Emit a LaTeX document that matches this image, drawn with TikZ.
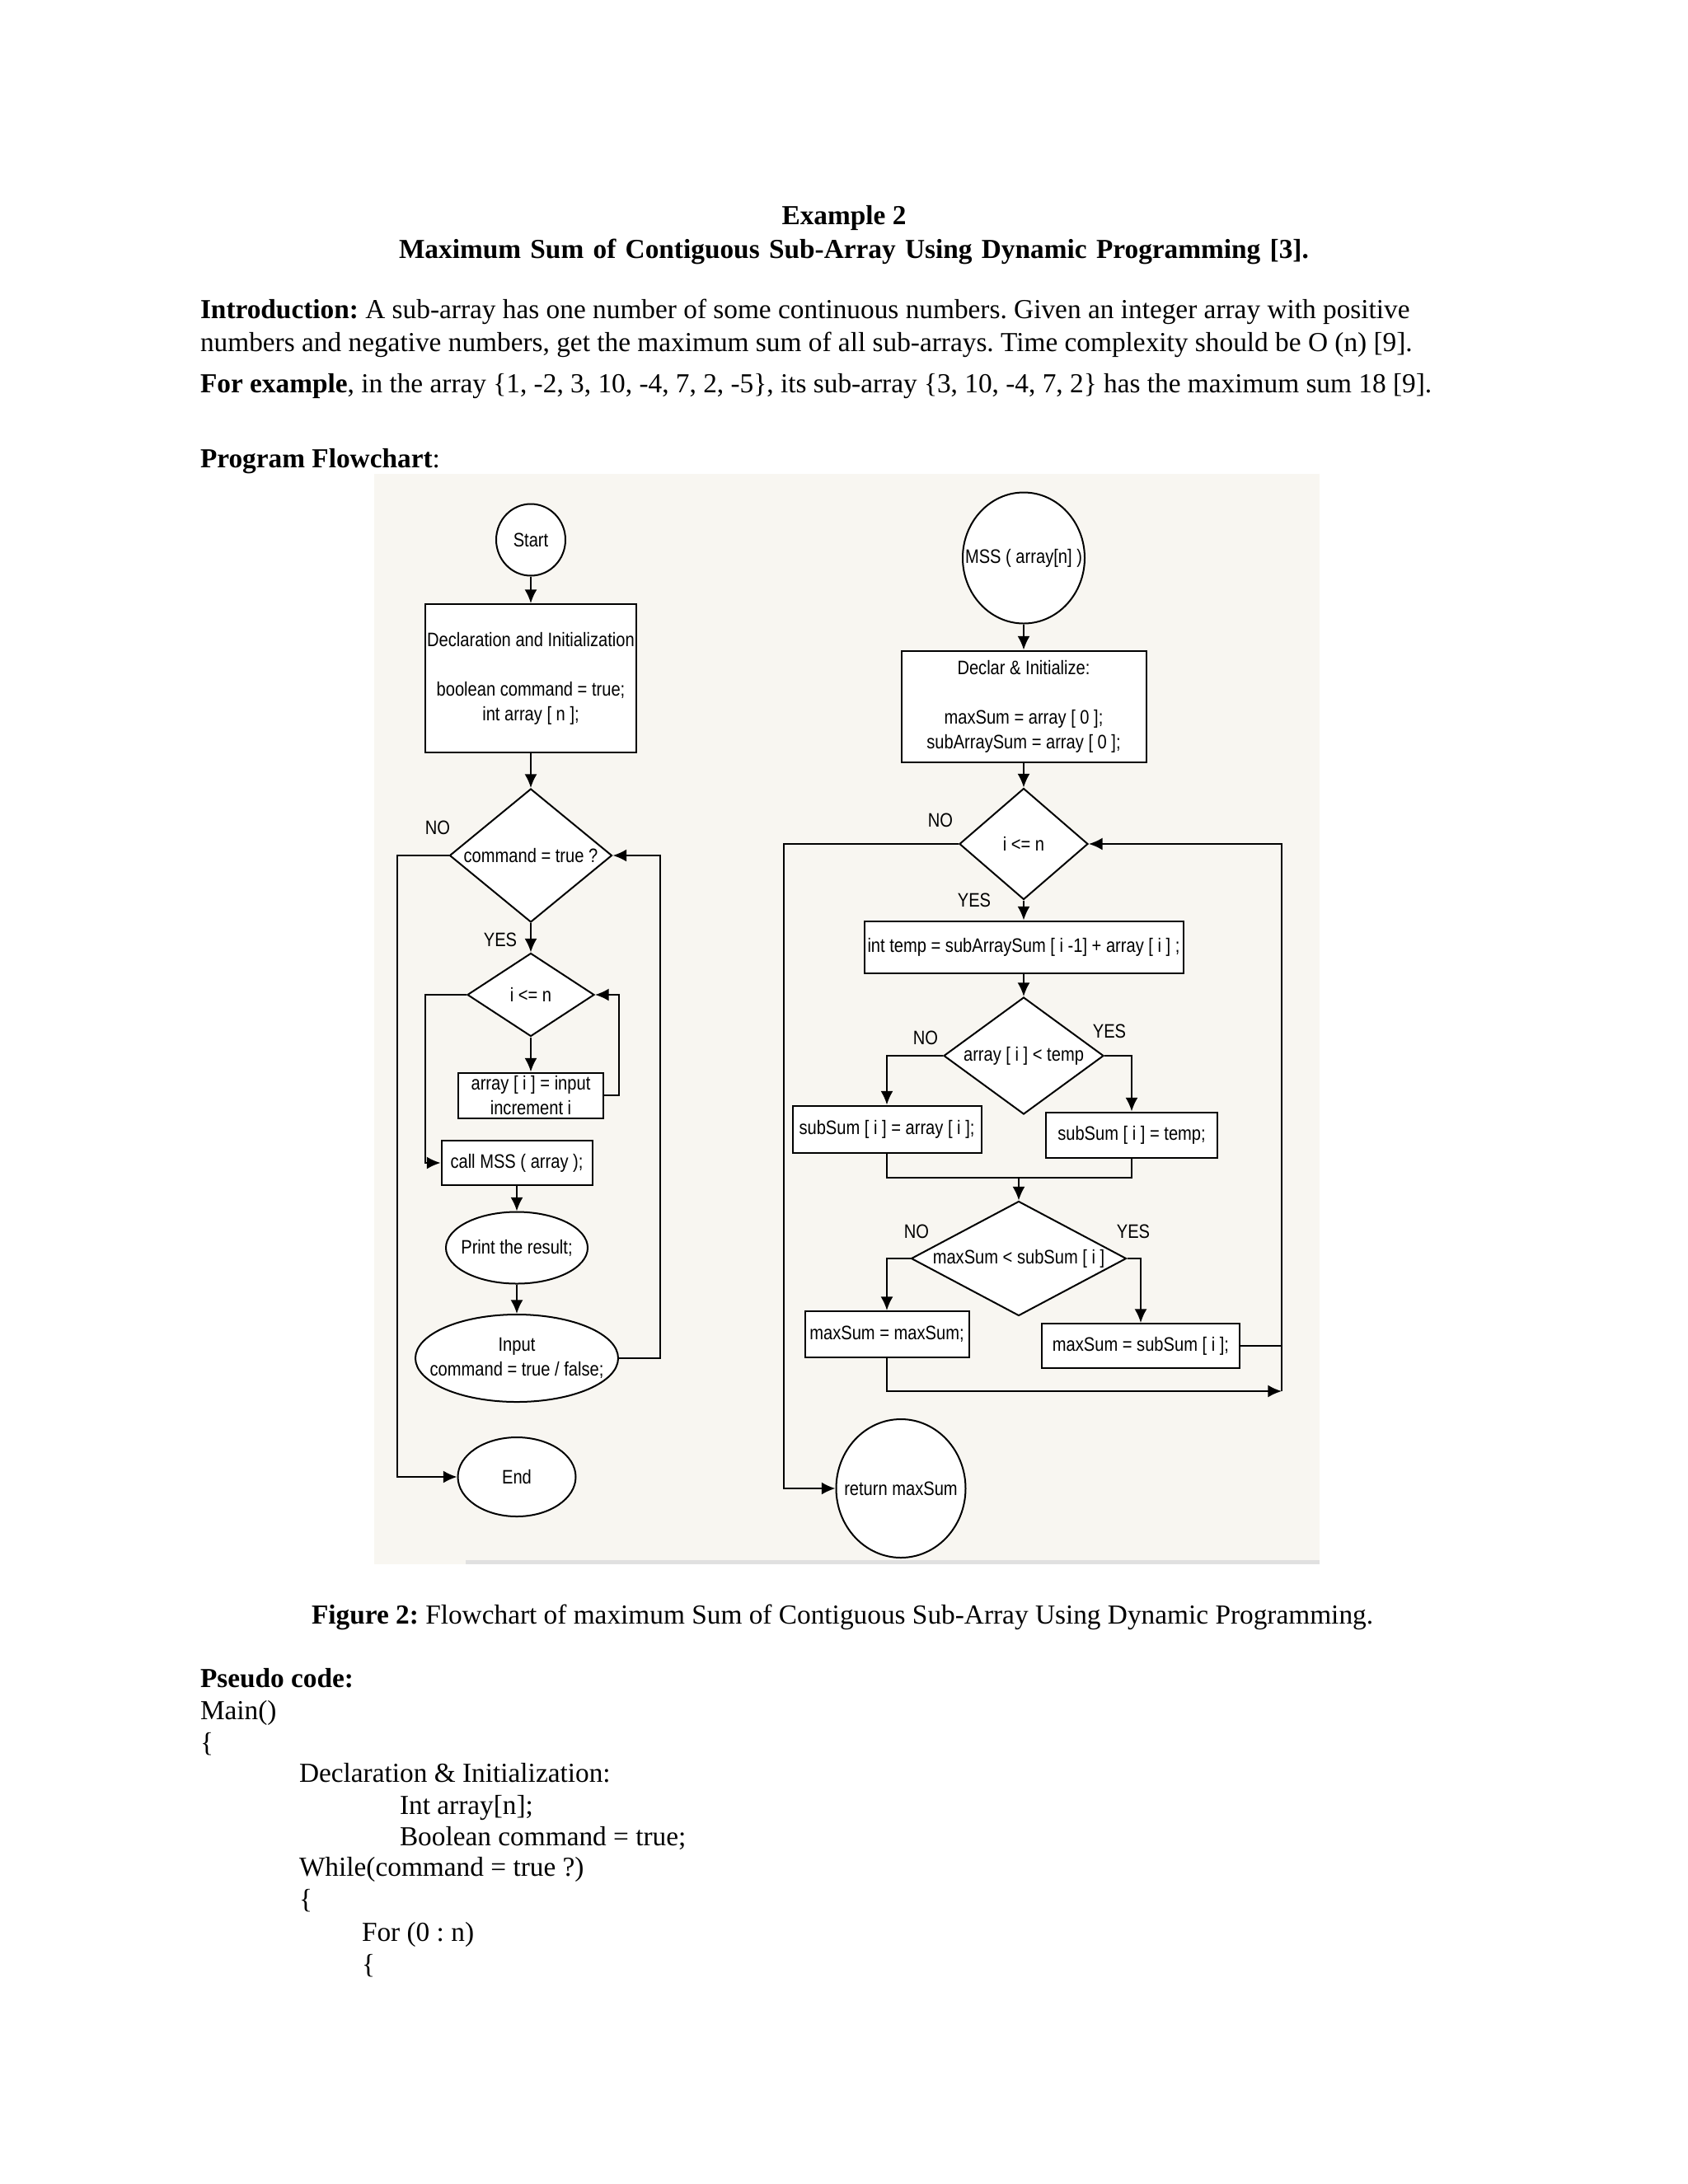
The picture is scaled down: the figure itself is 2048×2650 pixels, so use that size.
\documentclass[tikz,border=0pt]{standalone}
\usepackage{fontspec}
\setmainfont{Liberation Serif}
\newfontfamily\fcfont{Liberation Sans}[FakeStretch=0.85]
\usetikzlibrary{shapes.geometric, arrows.meta, positioning}
\frenchspacing

\newlength{\pxu}
\setlength{\pxu}{0.3pt}
\newcommand{\chartfont}{\fcfont\fontsize{7.1}{9}\selectfont}
\definecolor{chartbg}{RGB}{248,246,241}

\tikzset{
    box/.style={draw, fill=white, inner sep=0pt, align=center, font=\chartfont},
    decision/.style={diamond, draw, fill=white, inner sep=0pt, font=\chartfont},
    oval/.style={ellipse, draw, fill=white, inner sep=0pt},
    tag/.style={inner sep=0pt, font=\chartfont},
    head/.style={anchor=base, inner sep=0pt, font=\bfseries},
    body/.style={anchor=base west, inner sep=0pt},
}

\begin{document}
\begin{tikzpicture}[x=0.3pt, y=-0.3pt, line width=0.6pt, >={Latex[length=5pt, width=4.5pt]},
    every label/.style={font=\chartfont, align=center, inner sep=0pt}]

    \fill[white] (0,0) rectangle (2048,2650);
    \useasboundingbox (0,0) rectangle (2048,2650);

    \node[head] (ex-title) at (1024,272) {Example 2};
    \node[head] (main-title) at (1036,313) {\spaceskip=3.4pt\relax Maximum Sum of Contiguous Sub-Array Using Dynamic Programming [3].};
    \node[body] (intro-a) at (242,386) {\textbf{Introduction:} A sub-array has one number of some continuous numbers. Given an integer array with positive};
    \node[body] (intro-b) at (242,426) {numbers and negative numbers, get the maximum sum of all sub-arrays. Time complexity should be O (n) [9].};
    \node[body] (for-example) at (242,476) {\textbf{For example}, in the array \{1, -2, 3, 10, -4, 7, 2, -5\}, its sub-array \{3, 10, -4, 7, 2\} has the maximum sum 18 [9].};
    \node[body] (chart-head) at (242,567) {\textbf{Program Flowchart}:};

    \fill[chartbg] (454,575) rectangle (1601,1898);
    \fill[black!12] (565,1893) rectangle (1601,1898);

    \node[oval, minimum width=84\pxu, minimum height=87\pxu, label={center:Start}] (start) at (644,655) {};
    \node[box, minimum width=256\pxu, minimum height=180\pxu] (decl-init) at (644,823) {Declaration and Initialization\\[9pt] boolean command = true;\\ int array [ n ];};
    \node[decision, aspect=1.22, minimum width=197\pxu, minimum height=162\pxu] (cmd-check) at (644,1038) {command = true ?};
    \node[decision, aspect=1.52, minimum width=154\pxu, minimum height=101\pxu] (loop-check) at (644,1207) {i <= n};
    \node[box, minimum width=176\pxu, minimum height=55\pxu] (read-box) at (644,1329) {array [ i ] = input\\ increment i};
    \node[box, minimum width=183\pxu, minimum height=54\pxu] (call-mss) at (627,1411) {call MSS ( array );};
    \node[oval, minimum width=172\pxu, minimum height=87\pxu, label={center:Print the result;}] (print-res) at (627,1514) {};
    \node[oval, minimum width=246\pxu, minimum height=106\pxu, label={center:Input\\ command = true / false;}] (input-cmd) at (627,1648) {};
    \node[oval, minimum width=143\pxu, minimum height=96\pxu, label={center:End}] (end-node) at (627,1792) {};

    \node[tag] (cmd-no) at (531,1004) {NO};
    \node[tag] (cmd-yes) at (607,1140) {YES};

    \draw[->] (start) -- (decl-init);
    \draw[->] (decl-init) -- (cmd-check);
    \draw[->] (cmd-check) -- (loop-check);
    \draw[->] (loop-check) -- (read-box);
    \draw[->] (read-box.east) -- ++(18,0) |- (loop-check.east);
    \draw[->] (loop-check.west) -- ++(-50,0) |- (call-mss.west);
    \draw[->] (call-mss) -- (print-res);
    \draw[->] (print-res) -- (input-cmd);
    \draw[->] (input-cmd.east) -- ++(50,0) |- (cmd-check.east);
    \draw[->] (cmd-check.west) -- ++(-63,0) |- (end-node.west);

    \node[oval, minimum width=148\pxu, minimum height=159\pxu, label={center:MSS ( array[n] )}] (mss-start) at (1242,677) {};
    \node[box, minimum width=297\pxu, minimum height=135\pxu] (mss-init) at (1242,857) {Declar \& Initialize:\\[9pt] maxSum = array [ 0 ];\\ subArraySum = array [ 0 ];};
    \node[decision, aspect=1.16, minimum width=156\pxu, minimum height=135\pxu] (i-check) at (1242,1024) {i <= n};
    \node[box, minimum width=387\pxu, minimum height=63\pxu] (temp-box) at (1242,1149) {int temp = subArraySum [ i -1] + array [ i ] ;};
    \node[decision, aspect=1.37, minimum width=194\pxu, minimum height=142\pxu] (arr-check) at (1242,1281) {array [ i ] < temp};
    \node[box, minimum width=229\pxu, minimum height=57\pxu] (sub-no) at (1076,1370) {subSum [ i ] = array [ i ];};
    \node[box, minimum width=208\pxu, minimum height=55\pxu] (sub-yes) at (1373,1377) {subSum [ i ] = temp;};
    \node[decision, aspect=1.88, minimum width=261\pxu, minimum height=139\pxu] (max-check) at (1236,1527) {maxSum < subSum [ i ]};
    \node[box, minimum width=199\pxu, minimum height=56\pxu] (max-no) at (1076,1619) {maxSum = maxSum;};
    \node[box, minimum width=240\pxu, minimum height=54\pxu] (max-yes) at (1384,1633) {maxSum = subSum [ i ];};
    \node[oval, minimum width=157\pxu, minimum height=168\pxu, label={center:return maxSum}] (ret-max) at (1093,1806) {};

    \node[tag] (i-no) at (1141,995) {NO};
    \node[tag] (i-yes) at (1182,1092) {YES};
    \node[tag] (arr-no) at (1123,1259) {NO};
    \node[tag] (arr-yes) at (1346,1251) {YES};
    \node[tag] (max-no-tag) at (1112,1494) {NO};
    \node[tag] (max-yes-tag) at (1375,1494) {YES};

    \coordinate (ret-rail) at (951,1024);
    \coordinate (merge) at (1236,1429);
    \coordinate (loop-rail) at (1555,1688);

    \draw[->] (mss-start) -- (mss-init);
    \draw[->] (mss-init) -- (i-check);
    \draw[->] (i-check) -- (temp-box);
    \draw[->] (temp-box) -- (arr-check);
    \draw[->] (i-check.west) -- (ret-rail) |- (ret-max.west);
    \draw[->] (arr-check.west) -| (sub-no.north);
    \draw[->] (arr-check.east) -| (sub-yes.north);
    \draw (sub-no.south) |- (merge);
    \draw (sub-yes.south) |- (merge);
    \draw[->] (merge) -- (max-check.north);
    \draw[->] (max-check.west) -| (max-no.north);
    \draw[->] (max-check.east) -| (max-yes.north);
    \draw[->] (max-no.south) |- (loop-rail);
    \draw (max-yes.east) -- (max-yes.east -| loop-rail);
    \draw[->] (loop-rail) |- (i-check.east);

    \node[body] (caption) at (377,1970) {\textbf{Figure 2:} Flowchart of maximum Sum of Contiguous Sub-Array Using Dynamic Programming.};

    \node[body] (pseudo-head) at (242,2047) {\textbf{Pseudo code:}};
    \node[body] (code-main) at (242,2086) {Main()};
    \node[body] (code-open) at (242,2125) {\{};
    \node[body] (code-decl) at (362,2162) {Declaration \& Initialization:};
    \node[body] (code-int) at (484,2201) {Int array[n];};
    \node[body] (code-bool) at (484,2239) {Boolean command = true;};
    \node[body] (code-while) at (362,2276) {While(command = true ?)};
    \node[body] (code-wopen) at (362,2315) {\{};
    \node[body] (code-for) at (438,2355) {For (0 : n)};
    \node[body] (code-fopen) at (438,2394) {\{};

\end{tikzpicture}
\end{document}
